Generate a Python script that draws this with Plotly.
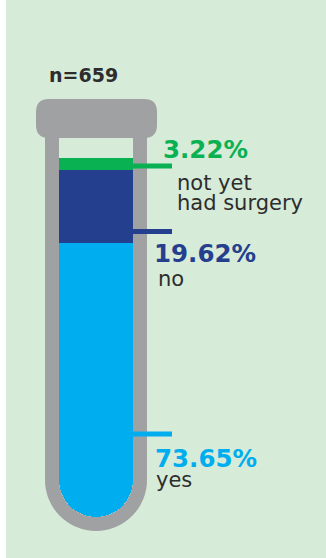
import plotly.graph_objects as go

# Survey outcome shares (percent of respondents)
categories = ["yes", "no", "not yet had surgery"]
shares = [73.65, 19.62, 3.22]
fill_colors = ["#00aeef", "#253f8f", "#09b152"]
label_lines = [["yes"], ["no"], ["not yet", "had surgery"]]
sample_label = "n=659"

W, H = 326, 558
BG = "#d7ebd9"
GLASS = "#a0a1a3"
INK = "#2d2d2d"
FONT = "DejaVu Sans"

# vertical scale in percent; zero sits on the boundary between "yes" and the
# layers above it, so "yes" is a negative bar hanging down into the rounded tip
PX_PER_PCT = 3.72
BOTTOM_PX = 517                       # inner bottom of the tube
ZERO_PX = BOTTOM_PX - shares[0] * PX_PER_PCT
y_pct_range = [-(H - ZERO_PX) / PX_PER_PCT, ZERO_PX / PX_PER_PCT]

# tube geometry in pixels
CX = 96
INNER_R, OUTER_R = 37, 51
ARC_CY = 480

fig = go.Figure()

# bottom layer (rounded end away from zero)
fig.add_trace(go.Bar(
    x=[CX], y=[-shares[0]], width=[2 * INNER_R],
    marker=dict(color=fill_colors[0], line=dict(width=0), cornerradius="50%"),
    name=categories[0], hoverinfo="skip", showlegend=False,
))
# layers stacked upward from zero
base = 0.0
for cat, v, col in zip(categories[1:], shares[1:], fill_colors[1:]):
    fig.add_trace(go.Bar(
        x=[CX], y=[v], base=[base], width=[2 * INNER_R],
        marker=dict(color=col, line=dict(width=0)),
        name=cat, hoverinfo="skip", showlegend=False,
    ))
    base += v

shapes = [
    # page background with a thin white margin on the left
    dict(type="rect", xref="x", yref="y2", x0=6, x1=W, y0=0, y1=H,
         fillcolor=BG, line=dict(width=0), layer="below"),
    # glass tube walls
    dict(type="rect", xref="x", yref="y2", x0=CX - OUTER_R, x1=CX + OUTER_R,
         y0=120, y1=ARC_CY, fillcolor=GLASS, line=dict(width=0), layer="below"),
    dict(type="circle", xref="x", yref="y2", x0=CX - OUTER_R, x1=CX + OUTER_R,
         y0=ARC_CY - OUTER_R, y1=ARC_CY + OUTER_R, fillcolor=GLASS,
         line=dict(width=0), layer="below"),
    # empty inside of the tube
    dict(type="rect", xref="x", yref="y2", x0=CX - INNER_R, x1=CX + INNER_R,
         y0=130, y1=ARC_CY, fillcolor=BG, line=dict(width=0), layer="below"),
    dict(type="circle", xref="x", yref="y2", x0=CX - INNER_R, x1=CX + INNER_R,
         y0=ARC_CY - INNER_R, y1=ARC_CY + INNER_R, fillcolor=BG,
         line=dict(width=0), layer="below"),
]

# stopper cap (rounded rectangle)
x0, x1, y0, y1, r = 36, 157, 99, 138, 13
cap_path = (f"M {x0 + r},{y0} L {x1 - r},{y0} Q {x1},{y0} {x1},{y0 + r} "
            f"L {x1},{y1 - r} Q {x1},{y1} {x1 - r},{y1} L {x0 + r},{y1} "
            f"Q {x0},{y1} {x0},{y1 - r} L {x0},{y0 + r} Q {x0},{y0} {x0 + r},{y0} Z")
shapes.append(dict(type="path", xref="x", yref="y2", path=cap_path,
                   fillcolor=GLASS, line=dict(width=0), layer="below"))

# leader ticks from the tube to each label
leader_y = [434, 231.5, 166]
for ly, col in zip(leader_y, fill_colors):
    shapes.append(dict(type="line", xref="x", yref="y2", x0=CX + INNER_R, x1=172,
                       y0=ly, y1=ly, line=dict(color=col, width=5), layer="above"))


def text_at(x, baseline, txt, size, color, bold=False):
    # centre of the DejaVu line box sits ~0.346 em above the baseline
    return dict(x=x, y=baseline - 0.346 * size, xref="x", yref="y2",
                xanchor="left", yanchor="middle", showarrow=False,
                text=f"<b>{txt}</b>" if bold else txt, borderpad=0,
                font=dict(family=FONT, size=size, color=color))


PCT_SIZE, LBL_SIZE = 24.5, 21
pct_pos = [(154, 466.7), (153, 261.7), (162, 157.7)]
lbl_pos = [(155, [487.3]), (157, [286.7]), (176, [190, 210])]

annotations = [text_at(48, 81.7, sample_label, 19, INK, bold=True)]
for v, col, (px, pb), (lx, lbs), lines in zip(shares, fill_colors, pct_pos, lbl_pos, label_lines):
    annotations.append(text_at(px, pb, f"{v:.2f}%", PCT_SIZE, col, bold=True))
    for line, b in zip(lines, lbs):
        annotations.append(text_at(lx, b, line, LBL_SIZE, INK))

fig.update_layout(
    width=W, height=H, margin=dict(l=0, r=0, t=0, b=0),
    paper_bgcolor="white", plot_bgcolor="rgba(0,0,0,0)",
    barmode="overlay", bargap=0,
    xaxis=dict(range=[0, W], visible=False, fixedrange=True),
    yaxis=dict(range=y_pct_range, visible=False, fixedrange=True),
    yaxis2=dict(range=[H, 0], overlaying="y", visible=False, fixedrange=True),
    shapes=shapes, annotations=annotations,
)

fig.write_html("out.html", config={"displayModeBar": False})
